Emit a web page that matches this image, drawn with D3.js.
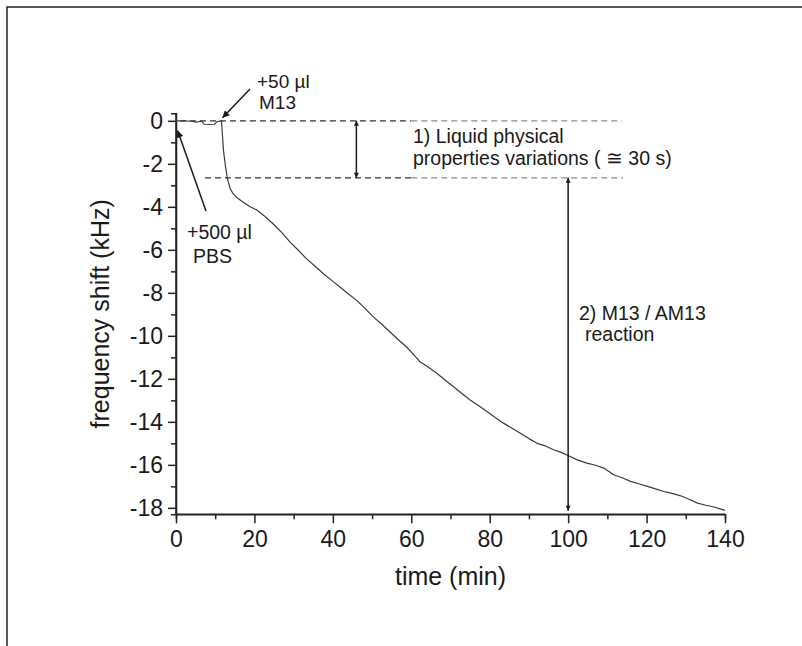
<!DOCTYPE html>
<html>
<head>
<meta charset="utf-8">
<script src="https://cdn.jsdelivr.net/npm/d3@7"></script>
<style>
  html, body { margin: 0; padding: 0; background: #fff; }
  svg { display: block; }
  text { font-family: "Liberation Sans", Arial, Helvetica, sans-serif; fill: #1a1a1a; }
</style>
</head>
<body>
<svg id="chart" width="802" height="646"></svg>
<script>
// Frequency shift of the sensor over time (min, kHz)
const timeMin = [0, 2, 4, 5.2, 6.0, 6.6, 7.2, 8.5, 9.8, 10.4, 11.0, 11.6, 12.1, 12.6, 13.1, 13.8, 14.6, 15.5, 16.7, 18.9, 20.6, 22.7, 24.8, 27.0, 29.1, 31.2, 33.3, 35.4, 37.6, 39.7, 41.8, 44.0, 46.1, 48.2, 50.3, 52.4, 54.6, 56.7, 58.8, 60.5, 62.2, 64.3, 66.5, 68.6, 70.7, 72.9, 75.0, 77.2, 79.3, 81.4, 83.5, 85.7, 87.8, 90.0, 92.1, 94.2, 96.3, 98.2, 100.1, 102.5, 104.8, 107.0, 109.1, 111.6, 113.8, 115.9, 118.0, 120.2, 122.3, 124.4, 126.5, 128.7, 130.8, 133.0, 135.1, 137.2, 140.0];
const shiftKHz = [0, 0, -0.02, -0.06, -0.03, -0.02, -0.16, -0.17, -0.16, -0.05, -0.02, 0, -1.37, -2.1, -2.68, -3.15, -3.4, -3.57, -3.73, -4.0, -4.15, -4.45, -4.8, -5.2, -5.64, -6.02, -6.42, -6.75, -7.11, -7.42, -7.73, -8.05, -8.35, -8.72, -9.12, -9.45, -9.82, -10.18, -10.52, -10.85, -11.2, -11.45, -11.74, -12.05, -12.36, -12.68, -12.98, -13.25, -13.52, -13.8, -14.06, -14.3, -14.53, -14.78, -15.0, -15.12, -15.3, -15.42, -15.58, -15.78, -15.92, -16.02, -16.15, -16.46, -16.6, -16.77, -16.88, -17.0, -17.12, -17.24, -17.33, -17.44, -17.6, -17.78, -17.88, -17.96, -18.12];

// Axis ticks
const xMajorTicks = [0, 20, 40, 60, 80, 100, 120, 140];
const xMinorTicks = [10, 30, 50, 70, 90, 110, 130];
const yMajorTicks = [0, -2, -4, -6, -8, -10, -12, -14, -16, -18];
const yMinorTicks = [-1, -3, -5, -7, -9, -11, -13, -15, -17];

// Reference levels and markers
const baselineLevel = 0;        // kHz, before injection
const liquidStepLevel = -2.65;  // kHz, after the liquid step
const injectionM13 = 11.6;      // min
const injectionPBS = 0.4;       // min
const stepArrowTime = 46;       // min
const reactionArrowTime = 100;  // min

const svg = d3.select("#chart");

const x = d3.scaleLinear().domain([0, 140]).range([176, 725]);
const y = d3.scaleLinear().domain([-18.3, 0.35]).range([514.3, 113.3]);

// Outer frame (top and left edges visible)
svg.append("path")
  .attr("d", "M7,646 L7,7 L802,7")
  .attr("fill", "none").attr("stroke", "#222").attr("stroke-width", 1.5);

// Arrowhead markers
const defs = svg.append("defs");
defs.append("marker")
  .attr("id", "head").attr("viewBox", "0 0 10 10")
  .attr("refX", 10).attr("refY", 5)
  .attr("markerWidth", 9).attr("markerHeight", 7)
  .attr("markerUnits", "userSpaceOnUse")
  .attr("orient", "auto-start-reverse")
  .append("path").attr("d", "M0,0 L10,5 L0,10 Z").attr("fill", "#1a1a1a");
defs.append("marker")
  .attr("id", "headSmall").attr("viewBox", "0 0 10 10")
  .attr("refX", 10).attr("refY", 5)
  .attr("markerWidth", 6).attr("markerHeight", 5)
  .attr("markerUnits", "userSpaceOnUse")
  .attr("orient", "auto-start-reverse")
  .append("path").attr("d", "M0,0 L10,5 L0,10 Z").attr("fill", "#1a1a1a");

// Dashed reference levels (darker near the curve, lighter under the labels)
function dashed(t0, t1, level, color) {
  svg.append("line")
    .attr("x1", x(t0)).attr("x2", x(t1))
    .attr("y1", y(level)).attr("y2", y(level))
    .attr("stroke", color).attr("stroke-width", 1.3)
    .attr("stroke-dasharray", "6,4");
}
dashed(1, 60, baselineLevel, "#333");
dashed(60, 113.7, baselineLevel, "#8a8a8a");
dashed(7.4, 60, liquidStepLevel, "#333");
dashed(60, 114, liquidStepLevel, "#8a8a8a");

// Axes
const xAxis = svg.append("g").attr("transform", `translate(0,${y(-18.3)})`);
xAxis.call(d3.axisBottom(x).tickValues(xMajorTicks).tickSize(9).tickPadding(7).tickFormat(d3.format("d")));
xAxis.append("g").call(d3.axisBottom(x).tickValues(xMinorTicks).tickSize(5).tickFormat(""));
const yAxis = svg.append("g").attr("transform", `translate(${x(0)},0)`);
yAxis.call(d3.axisLeft(y).tickValues(yMajorTicks).tickSize(8).tickPadding(5).tickFormat(d => d === 0 ? "0" : "-" + Math.abs(d)));
yAxis.append("g").call(d3.axisLeft(y).tickValues(yMinorTicks).tickSize(5).tickFormat(""));

svg.selectAll(".domain").attr("stroke", "#222").attr("stroke-width", 1.5);
svg.selectAll(".tick line").attr("stroke", "#222").attr("stroke-width", 1.5);
svg.selectAll(".tick text")
  .attr("font-family", "Liberation Sans, Arial, sans-serif")
  .attr("font-size", 23).attr("fill", "#1a1a1a");
// axis lines without end caps
xAxis.select(".domain").attr("d", `M${x(0)},0H${x(140)}`);
yAxis.select(".domain").attr("d", `M0,${y(0.35)}V${y(-18.3)}`);

// Curve
const line = d3.line().x((d, i) => x(timeMin[i])).y((d, i) => y(shiftKHz[i]));
svg.append("path")
  .datum(shiftKHz)
  .attr("d", line)
  .attr("fill", "none")
  .attr("stroke", "#3a3a3a")
  .attr("stroke-width", 1.2)
  .attr("stroke-linejoin", "round");

// Double arrows for the two stages
svg.append("line")
  .attr("x1", x(stepArrowTime)).attr("x2", x(stepArrowTime))
  .attr("y1", y(baselineLevel)).attr("y2", y(liquidStepLevel))
  .attr("stroke", "#1a1a1a").attr("stroke-width", 1.5)
  .attr("marker-start", "url(#headSmall)").attr("marker-end", "url(#headSmall)");
svg.append("line")
  .attr("x1", x(reactionArrowTime)).attr("x2", x(reactionArrowTime))
  .attr("y1", y(liquidStepLevel)).attr("y2", y(-18.13))
  .attr("stroke", "#1a1a1a").attr("stroke-width", 1.5)
  .attr("marker-start", "url(#headSmall)").attr("marker-end", "url(#headSmall)");

// Injection pointers
svg.append("line")
  .attr("x1", 250).attr("y1", 89)
  .attr("x2", x(injectionM13) + 1).attr("y2", y(baselineLevel) - 3)
  .attr("stroke", "#1a1a1a").attr("stroke-width", 1.5)
  .attr("marker-end", "url(#head)");
svg.append("line")
  .attr("x1", 206).attr("y1", 211)
  .attr("x2", x(injectionPBS)).attr("y2", y(-0.45))
  .attr("stroke", "#1a1a1a").attr("stroke-width", 1.5)
  .attr("marker-end", "url(#head)");

// Labels
function label(px, py, str, size) {
  svg.append("text").attr("x", px).attr("y", py)
    .attr("font-size", size).text(str);
}
label(257, 88, "+50 µl", 19);
label(259, 109, "M13", 19);
label(187, 239, "+500 µl", 19.5);
label(193, 263, "PBS", 19.5);
label(413, 143, "1) Liquid physical", 19.5);
label(413, 165, "properties variations ( \u2245 30 s)", 19.5);
label(579, 320, "2) M13 / AM13", 19.5);
label(585, 341, "reaction", 19.5);

// Axis titles
svg.append("text")
  .attr("x", (x(0) + x(140)) / 2).attr("y", 585)
  .attr("text-anchor", "middle").attr("font-size", 25)
  .text("time (min)");
svg.append("text")
  .attr("transform", `translate(109,${(y(0.35) + y(-18.3)) / 2}) rotate(-90)`)
  .attr("text-anchor", "middle").attr("font-size", 25)
  .text("frequency shift (kHz)");
</script>
</body>
</html>
